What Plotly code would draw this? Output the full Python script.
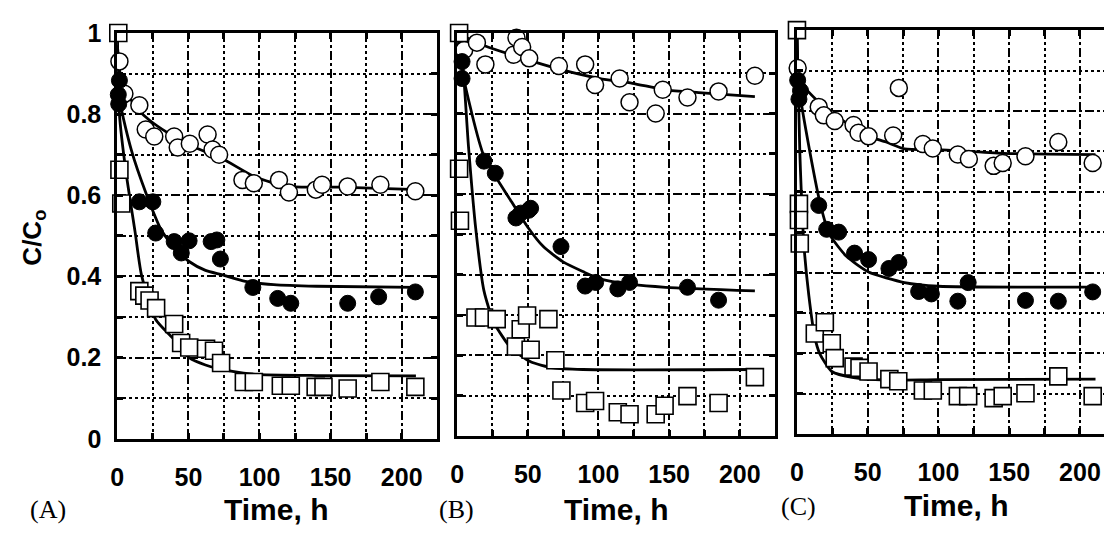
import plotly.graph_objects as go

# ---------------- data ----------------
# Panel A
A_open_t = [1.5, 5, 15.5, 20, 26, 40, 42.5, 51, 63.5, 67, 71.6, 88, 96, 113.7, 120.7, 139.6, 144, 162, 185, 209.6]
A_open_c = [0.93, 0.85, 0.822, 0.762, 0.745, 0.745, 0.718, 0.727, 0.75, 0.713, 0.70, 0.638, 0.63, 0.638, 0.607, 0.614, 0.626, 0.622, 0.626, 0.61]
A_fill_t = [1.5, 0.7, 1.0, 15.5, 25, 27, 40, 45, 50.5, 66, 70, 72.5, 95.3, 112.8, 122, 162, 183.8, 209.6]
A_fill_c = [0.883, 0.848, 0.825, 0.584, 0.584, 0.507, 0.486, 0.458, 0.488, 0.486, 0.49, 0.443, 0.373, 0.346, 0.334, 0.334, 0.35, 0.362]
A_sq_t = [0.7, 1.5, 2.8, 15.5, 19, 22.7, 27.3, 40, 44.9, 50.6, 62.4, 68, 73, 89, 96, 115, 122, 139.5, 145, 162, 185, 209.6]
A_sq_c = [1.0, 0.663, 0.58, 0.364, 0.353, 0.341, 0.322, 0.283, 0.236, 0.225, 0.222, 0.217, 0.187, 0.14, 0.14, 0.131, 0.131, 0.128, 0.128, 0.124, 0.14, 0.128]
A_open_fit_t = [0, 2, 6, 15, 22.7, 35, 50.5, 74, 97, 120, 156, 212]
A_open_fit_c = [0.97, 0.9, 0.855, 0.81, 0.785, 0.755, 0.724, 0.69, 0.645, 0.622, 0.62, 0.614]
A_fill_fit_t = [0, 2, 10, 20, 31, 41, 50.5, 62, 74, 90, 110, 140, 210]
A_fill_fit_c = [1.0, 0.83, 0.71, 0.607, 0.514, 0.467, 0.437, 0.415, 0.404, 0.388, 0.38, 0.376, 0.373]
A_sq_fit_t = [0, 1.5, 6, 12.5, 17, 27, 39, 50.5, 62, 81, 97, 140, 210]
A_sq_fit_c = [1.0, 0.8, 0.66, 0.51, 0.404, 0.294, 0.248, 0.2, 0.182, 0.166, 0.159, 0.156, 0.155]

# Panel B
B_open_t = [5, 14, 20, 28, 40, 42, 46, 51, 69, 72, 90.6, 97.6, 115, 122, 140.5, 145.5, 163, 185, 210.7]
B_open_c = [0.958, 0.976, 0.922, 1.012, 0.946, 0.988, 0.965, 0.937, 1.012, 0.918, 0.922, 0.871, 0.887, 0.828, 0.8, 0.859, 0.84, 0.855, 0.894]
B_fill_t = [3.5, 3.5, 19, 27, 41.6, 45, 50.6, 52, 73.5, 90.6, 98, 113.7, 122, 163, 185]
B_fill_c = [0.929, 0.887, 0.682, 0.652, 0.541, 0.553, 0.56, 0.565, 0.47, 0.372, 0.381, 0.365, 0.381, 0.369, 0.337]
B_sq_t = [1.4, 1.4, 2, 13, 19, 28, 41.6, 45, 49.5, 52, 64.6, 69.5, 73.8, 90.6, 97.6, 113.7, 122, 140.5, 146.8, 163, 185, 210.7]
B_sq_c = [1.0, 0.663, 0.534, 0.294, 0.294, 0.29, 0.222, 0.265, 0.299, 0.214, 0.29, 0.188, 0.113, 0.082, 0.087, 0.059, 0.054, 0.054, 0.075, 0.099, 0.082, 0.146]
B_open_fit_t = [0, 2.8, 19, 54, 77, 101, 124, 147.5, 171, 210.7]
B_open_fit_c = [1.0, 0.995, 0.969, 0.929, 0.906, 0.887, 0.875, 0.859, 0.852, 0.842]
B_fill_fit_t = [0, 3.5, 19, 38, 50, 61, 75, 89, 101, 124, 147.5, 210.7]
B_fill_fit_c = [1.0, 0.906, 0.694, 0.584, 0.518, 0.47, 0.432, 0.408, 0.39, 0.376, 0.369, 0.36]
B_sq_fit_t = [0, 3.5, 8, 13.3, 19, 26, 38, 52, 68, 89, 211]
B_sq_fit_c = [1.0, 0.94, 0.72, 0.51, 0.36, 0.282, 0.219, 0.184, 0.169, 0.165, 0.165]

# Panel C
C_open_t = [0.5, 15.4, 19, 26.7, 40, 43.5, 50.6, 68, 72, 89, 96, 113.7, 121.5, 139, 145.4, 161.5, 184.7, 209]
C_open_c = [0.906, 0.81, 0.789, 0.775, 0.765, 0.746, 0.737, 0.739, 0.857, 0.718, 0.707, 0.692, 0.681, 0.664, 0.671, 0.688, 0.723, 0.671]
C_fill_t = [0.5, 1.4, 2.5, 15.4, 21, 29.5, 40.7, 50.6, 65, 72, 86, 95, 113.7, 121, 161.5, 184.7, 209]
C_fill_c = [0.876, 0.829, 0.85, 0.566, 0.507, 0.5, 0.448, 0.432, 0.41, 0.425, 0.353, 0.347, 0.329, 0.375, 0.331, 0.329, 0.352]
C_sq_t = [0, 1.4, 1.4, 2, 12.6, 19.7, 24.6, 26.7, 40, 44.2, 50.6, 65.3, 71.6, 89, 96, 113.7, 121, 139, 145.4, 161.5, 184.7, 209]
C_sq_c = [1.0, 0.57, 0.53, 0.472, 0.249, 0.277, 0.225, 0.188, 0.167, 0.164, 0.155, 0.136, 0.131, 0.108, 0.108, 0.094, 0.094, 0.089, 0.094, 0.101, 0.143, 0.094]
C_open_fit_t = [0, 2, 16, 30, 49, 63, 76, 100, 146, 211]
C_open_fit_c = [0.95, 0.876, 0.82, 0.782, 0.739, 0.723, 0.706, 0.704, 0.695, 0.692]
C_fill_fit_t = [0, 1.4, 16, 23, 35, 50.6, 76, 100, 211]
C_fill_fit_c = [1.0, 0.86, 0.577, 0.495, 0.44, 0.401, 0.375, 0.366, 0.364]
C_sq_fit_t = [0, 2, 5, 8.4, 12.6, 16, 24.6, 40, 63, 100, 211]
C_sq_fit_c = [1.0, 0.7, 0.465, 0.343, 0.24, 0.2, 0.155, 0.14, 0.134, 0.135, 0.136]

x_tickvals = [0, 50, 100, 150, 200]
x_ticktext = ["0", "50", "100", "150", "200"]
y_tickvals = [0, 0.2, 0.4, 0.6, 0.8, 1.0]
y_ticktext = ["0", "0.2", "0.4", "0.6", "0.8", "1"]
panel_labels = ["(A)", "(B)", "(C)"]
x_title = "Time, h"
y_title = "C/C<sub>o</sub>"

# ---------------- figure ----------------
W, H = 1104, 542
fig = go.Figure()

panels = [
    dict(xa="x", ya="y", open=(A_open_t, A_open_c), fill=(A_fill_t, A_fill_c), sq=(A_sq_t, A_sq_c),
         fits=[(A_open_fit_t, A_open_fit_c), (A_fill_fit_t, A_fill_fit_c), (A_sq_fit_t, A_sq_fit_c)]),
    dict(xa="x2", ya="y2", open=(B_open_t, B_open_c), fill=(B_fill_t, B_fill_c), sq=(B_sq_t, B_sq_c),
         fits=[(B_open_fit_t, B_open_fit_c), (B_fill_fit_t, B_fill_fit_c), (B_sq_fit_t, B_sq_fit_c)]),
    dict(xa="x3", ya="y3", open=(C_open_t, C_open_c), fill=(C_fill_t, C_fill_c), sq=(C_sq_t, C_sq_c),
         fits=[(C_open_fit_t, C_open_fit_c), (C_fill_fit_t, C_fill_fit_c), (C_sq_fit_t, C_sq_fit_c)]),
]

for p in panels:
    for ft, fc in p["fits"]:
        fig.add_trace(go.Scatter(x=ft, y=fc, xaxis=p["xa"], yaxis=p["ya"], mode="lines",
                                 line=dict(color="black", width=2.8, shape="spline", smoothing=0.6),
                                 showlegend=False, hoverinfo="skip"))
    fig.add_trace(go.Scatter(x=p["open"][0], y=p["open"][1], xaxis=p["xa"], yaxis=p["ya"], mode="markers",
                             marker=dict(symbol="circle", size=17, color="white", line=dict(color="black", width=1.5)),
                             cliponaxis=False, showlegend=False))
    fig.add_trace(go.Scatter(x=p["sq"][0], y=p["sq"][1], xaxis=p["xa"], yaxis=p["ya"], mode="markers",
                             marker=dict(symbol="square", size=17, color="white", line=dict(color="black", width=1.6)),
                             cliponaxis=False, showlegend=False))
    fig.add_trace(go.Scatter(x=p["fill"][0], y=p["fill"][1], xaxis=p["xa"], yaxis=p["ya"], mode="markers",
                             marker=dict(symbol="circle", size=16, color="black", line=dict(color="black", width=1)),
                             cliponaxis=False, showlegend=False))

tick_font = dict(family="Liberation Sans", size=25, color="black", weight="bold")


def xaxis(dom, rng, mirror):
    return dict(domain=dom, range=rng, showline=True, linecolor="black", linewidth=3, mirror=mirror,
                tickvals=x_tickvals, ticktext=x_ticktext, ticks="inside", ticklen=6, tickwidth=2.5, tickcolor="black",
                tickfont=tick_font, ticklabelstandoff=14,
                showgrid=True, gridcolor="black", gridwidth=1.5, griddash="dashdot",
                minor=dict(tickvals=[25, 75, 125, 175, 225], ticks="inside", ticklen=6, tickwidth=2.5, tickcolor="black",
                           showgrid=True, gridcolor="black", gridwidth=1.5, griddash="dot"),
                zeroline=False, fixedrange=True)


def yaxis(dom, anchor, labels, mirror):
    return dict(domain=dom, range=[0, 1], anchor=anchor, showline=True, linecolor="black", linewidth=3, mirror=mirror,
                tickvals=y_tickvals, ticktext=y_ticktext, showticklabels=labels,
                ticks="inside", ticklen=6, tickwidth=2.5, tickcolor="black", tickfont=tick_font, ticklabelstandoff=8,
                showgrid=True, gridcolor="black", gridwidth=1.5, griddash="dashdot",
                minor=dict(tickvals=[0.1, 0.3, 0.5, 0.7, 0.9], ticks="inside", ticklen=6, tickwidth=2.5, tickcolor="black",
                           showgrid=True, gridcolor="black", gridwidth=1.5, griddash="dot"),
                zeroline=False, fixedrange=True)


def px_x(v):
    return v / W


def px_y(v):
    return 1 - v / H


fig.update_layout(
    width=W, height=H, autosize=False,
    margin=dict(l=0, r=0, t=0, b=0),
    paper_bgcolor="white", plot_bgcolor="white",
    xaxis=dict(xaxis([px_x(111), px_x(433)], [0, 225], "ticks"), anchor="y"),
    yaxis=yaxis([px_y(448), px_y(20)], "x", True, "ticks"),
    xaxis2=dict(xaxis([px_x(453), px_x(773)], [0, 225], "ticks"), anchor="y2"),
    yaxis2=yaxis([px_y(445), px_y(20)], "x2", False, "ticks"),
    xaxis3=dict(xaxis([px_x(795), 1.0], [0, 217], "ticks"), anchor="y3"),
    yaxis3=yaxis([px_y(443), px_y(17)], "x3", False, False),
)

ann = []
label_pos = [(41, 522), (452, 522), (797, 519)]
for (lx, ly), t in zip(label_pos, panel_labels):
    ann.append(dict(x=px_x(lx), y=px_y(ly), xref="paper", yref="paper", text=t, showarrow=False,
                    xanchor="center", yanchor="middle",
                    font=dict(family="Liberation Serif", size=26, color="black")))
title_pos = [(271, 522), (613, 522), (955, 518)]
for (tx, ty) in title_pos:
    ann.append(dict(x=px_x(tx), y=px_y(ty), xref="paper", yref="paper", text=x_title, showarrow=False,
                    xanchor="center", yanchor="middle",
                    font=dict(family="Liberation Sans", size=30, color="black", weight="bold")))
ann.append(dict(x=px_x(27), y=px_y(236), xref="paper", yref="paper", text=y_title, showarrow=False,
                textangle=-90, xanchor="center", yanchor="middle",
                font=dict(family="Liberation Sans", size=26, color="black", weight="bold")))
fig.update_layout(annotations=ann)

fig.write_html("out.html")
